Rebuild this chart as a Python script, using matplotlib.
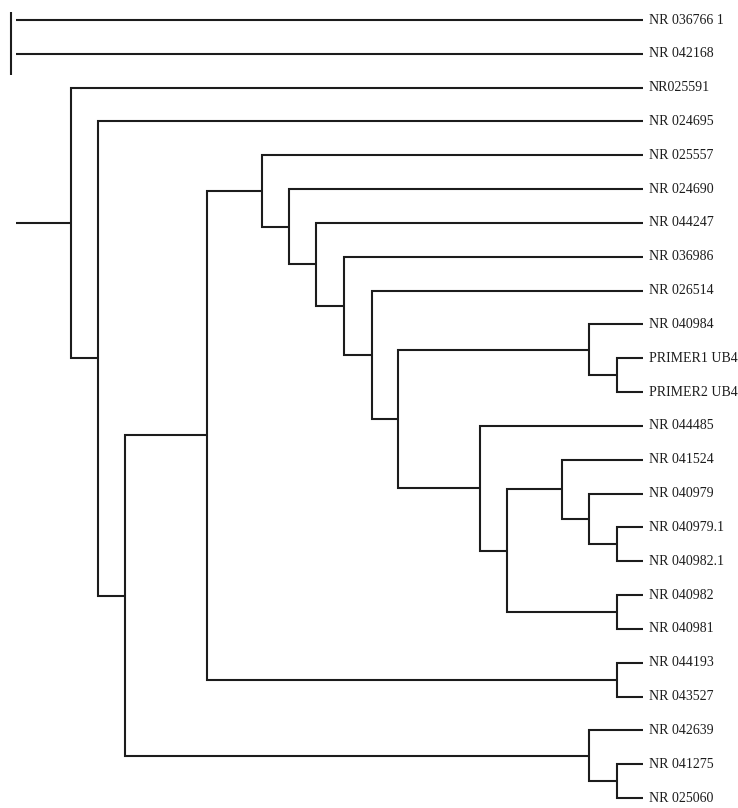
import matplotlib
matplotlib.use('Agg')
import matplotlib.pyplot as plt

# leaf labels, top to bottom
leaves = ['NR 036766 1', 'NR 042168', 'NR025591', 'NR 024695', 'NR 025557',
          'NR 024690', 'NR 044247', 'NR 036986', 'NR 026514', 'NR 040984',
          'PRIMER1 UB4', 'PRIMER2 UB4', 'NR 044485', 'NR 041524', 'NR 040979',
          'NR 040979.1', 'NR 040982.1', 'NR 040982', 'NR 040981', 'NR 044193',
          'NR 043527', 'NR 042639', 'NR 041275', 'NR 025060']

# internal nodes: name -> (upper child, lower child, horizontal position)
node_names = ['A', 'B', 'C', 'D', 'E', 'T', 'G', 'F', 'H', 'I', 'J', 'K',
              'L', 'M', 'U', 'N', 'O', 'P', 'Q', 'R', 'S']
node_upper = ['NR025591', 'NR 024695', 'D', 'F', 'NR 042639', 'NR 041275',
              'NR 044193', 'NR 025557', 'NR 024690', 'NR 044247', 'NR 036986',
              'NR 026514', 'M', 'NR 040984', 'PRIMER1 UB4', 'NR 044485', 'P',
              'NR 041524', 'NR 040979', 'NR 040979.1', 'NR 040982']
node_lower = ['B', 'C', 'E', 'G', 'T', 'NR 025060', 'NR 043527', 'H', 'I', 'J',
              'K', 'L', 'N', 'U', 'PRIMER2 UB4', 'O', 'S', 'Q', 'R',
              'NR 040982.1', 'NR 040981']
node_x = [71, 98, 125, 207, 589, 617, 617, 262, 289, 316, 344, 372,
          398, 589, 617, 480, 507, 562, 589, 617, 617]

# two unrooted sequences drawn separately at the top
outgroup = ['NR 036766 1', 'NR 042168']
root = 'A'
leaf_x = 643
root_x = 16

INK = '#1c1c1c'
LW = 1.5

fig = plt.figure(figsize=(7.38, 8.08), dpi=100)
ax = fig.add_axes([0, 0, 1, 1])
ax.set_xlim(0, 738)
step = (798 - 20) / (len(leaves) - 1)
ax.set_ylim(len(leaves) - 1 + 10 / step, -20 / step)
ax.axis('off')

nodes = {n: (u, l, x) for n, u, l, x in zip(node_names, node_upper, node_lower, node_x)}
pos = {name: (leaf_x, i) for i, name in enumerate(leaves)}


def place(name):
    if name in pos:
        return pos[name]
    u, l, x = nodes[name]
    xu, yu = place(u)
    xl, yl = place(l)
    ax.plot([xu, x, x, xl], [yu, yu, yl, yl], color=INK, lw=LW,
            solid_joinstyle='miter', solid_capstyle='butt')
    pos[name] = (x, (yu + yl) / 2)
    return pos[name]


rx, ry = place(root)
ax.plot([root_x, rx], [ry, ry], color=INK, lw=LW, solid_capstyle='butt')

for name in outgroup:
    i = leaves.index(name)
    ax.plot([root_x, leaf_x], [i, i], color=INK, lw=LW, solid_capstyle='butt')
i0, i1 = leaves.index(outgroup[0]), leaves.index(outgroup[1])
ax.plot([11, 11], [i0 - 0.24, i1 + 0.62], color=INK, lw=LW, solid_capstyle='butt')

for i, name in enumerate(leaves):
    ax.text(649, i, name, family='Liberation Serif', fontsize=10,
            ha='left', va='center', color=INK)

fig.savefig('out.png', dpi=100, facecolor='white')
